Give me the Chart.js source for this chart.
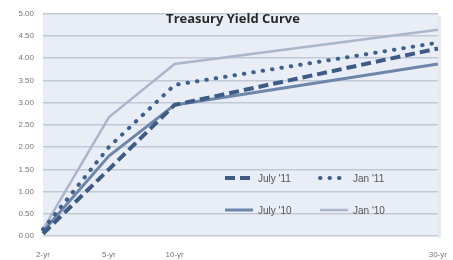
<!DOCTYPE html>
<html>
<head>
<meta charset="utf-8">
<script src="https://cdn.jsdelivr.net/npm/chart.js@4"></script>
<style>
  html, body { margin: 0; padding: 0; background: #fff; }
  #wrap { position: relative; width: 453px; height: 260px; }
</style>
</head>
<body>
<div id="wrap"><canvas id="chart" width="453" height="260"></canvas></div>
<script>
'use strict';

const maturities = ['2-yr', '5-yr', '10-yr', '', '', '', '30-yr'];
const july11 = [0.05, 1.50, 2.95, null, null, null, 4.22];
const jan11  = [0.15, 2.00, 3.40, null, null, null, 4.35];
const july10 = [0.10, 1.80, 2.95, null, null, null, 3.87];
const jan10  = [0.15, 2.67, 3.87, null, null, null, 4.64];
const yTicks = [0, 0.5, 1, 1.5, 2, 2.5, 3, 3.5, 4, 4.5, 5];

const FONT = "'Liberation Sans', 'DejaVu Sans', sans-serif";

const plotBg = {
    id: 'plotBg',
    beforeDraw(chart) {
        const { ctx, chartArea: a } = chart;
        ctx.save();
        ctx.fillStyle = '#e9eef6';
        ctx.fillRect(a.left, a.top, a.right - a.left, a.bottom - a.top);
        ctx.fillStyle = 'rgba(180,188,200,0.35)';
        ctx.fillRect(a.right, a.top + 2, 3, a.bottom - a.top);
        ctx.restore();
    }
};

const overlay = {
    id: 'overlay',
    afterDraw(chart) {
        const { ctx } = chart;
        ctx.save();
        ctx.fillStyle = '#2a2a2a';
        ctx.font = "bold 13px 'Open Sans', sans-serif";
        ctx.textAlign = 'center';
        ctx.textBaseline = 'middle';
        ctx.fillText('Treasury Yield Curve', 233, 19);

        const spots = [[225, 178], [320, 178], [225, 210], [320, 210]];
        chart.data.datasets.forEach((ds, i) => {
            const [x, y] = spots[i];
            ctx.beginPath();
            ctx.strokeStyle = ds.borderColor;
            ctx.lineWidth = ds.borderWidth;
            ctx.lineCap = ds.borderCapStyle || 'butt';
            ctx.setLineDash(ds.borderDash || []);
            ctx.moveTo(x, y);
            ctx.lineTo(x + 28, y);
            ctx.stroke();
            ctx.setLineDash([]);
            ctx.fillStyle = '#555';
            ctx.font = '10px ' + FONT;
            ctx.textAlign = 'left';
            ctx.fillText(ds.label, x + 33, y + 1);
        });
        ctx.restore();
    }
};

new Chart(document.getElementById('chart'), {
    type: 'line',
    data: {
        labels: maturities,
        datasets: [
            { label: "July '11", data: july11, borderColor: '#3d5b85', borderWidth: 4,
              borderDash: [10, 5], spanGaps: true, pointRadius: 0, tension: 0 },
            { label: "Jan '11", data: jan11, borderColor: '#40608c', borderWidth: 4,
              borderDash: [0.5, 9], borderCapStyle: 'round', spanGaps: true, pointRadius: 0, tension: 0 },
            { label: "July '10", data: july10, borderColor: '#6f86ab', borderWidth: 3,
              spanGaps: true, pointRadius: 0, tension: 0 },
            { label: "Jan '10", data: jan10, borderColor: '#acb6cb', borderWidth: 2.5,
              spanGaps: true, pointRadius: 0, tension: 0 },
        ]
    },
    options: {
        responsive: false,
        animation: false,
        layout: { padding: { top: 11, right: 11, left: 0, bottom: 0 } },
        plugins: { legend: { display: false }, title: { display: false }, tooltip: { enabled: false } },
        scales: {
            x: {
                offset: false,
                grid: { display: false },
                border: { display: false },
                ticks: { autoSkip: false, maxRotation: 0, color: '#777', padding: 6,
                          font: { size: 8, family: FONT } },
                afterFit: s => { s.height = 24; },
            },
            y: {
                min: 0, max: 5,
                afterBuildTicks: s => { s.ticks = yTicks.map(v => ({ value: v })); },
                grid: { color: '#c2c9d5', lineWidth: 1.5, drawTicks: false },
                border: { display: false },
                ticks: { color: '#777', padding: 9, callback: v => v.toFixed(2),
                          font: { size: 8, family: FONT } },
                afterFit: s => { s.width = 43; },
            }
        }
    },
    plugins: [plotBg, overlay]
});
</script>
</body>
</html>
